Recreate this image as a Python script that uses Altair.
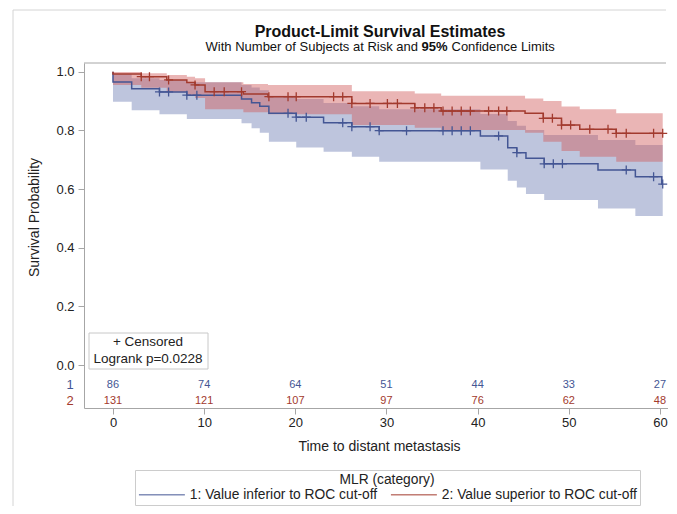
import altair as alt
import pandas as pd

# ---------------- data ----------------
LAB1 = "1: Value inferior to ROC cut-off"
LAB2 = "2: Value superior to ROC cut-off"

# Kaplan-Meier step curves (time, survival)
blue_t = [0, 0, 2.05, 5.1, 8.1, 14.1, 15.2, 16.1, 17.1, 20.1, 23.1, 26.2, 29.2,
          40.3, 43.3, 44.3, 45.3, 47.3, 53.2, 57.3, 60.2, 60.3]
blue_s = [1.0, 0.965, 0.942, 0.931, 0.920, 0.907, 0.894, 0.882, 0.858, 0.845, 0.826,
          0.8125, 0.799, 0.781, 0.741, 0.724, 0.705, 0.686, 0.665, 0.642, 0.617, 0.617]

red_t = [0, 0, 3.1, 5.9, 8.1, 9.0, 10.1, 14.3, 17.0, 26.2, 33.1, 36.0, 45.2, 47.2,
         49.2, 51.2, 55.2, 60.3]
red_s = [1.0, 0.992, 0.983, 0.972, 0.963, 0.955, 0.932, 0.924, 0.915, 0.892, 0.877,
         0.866, 0.858, 0.841, 0.818, 0.8035, 0.790, 0.790]

# 95% confidence bands (step)
blue_ci_t = [0, 2.05, 5.1, 8.1, 14.1, 15.2, 16.1, 17.1, 20.1, 23.1, 26.2, 29.2,
             40.3, 43.3, 44.3, 45.3, 47.3, 53.2, 57.3, 60.2, 60.3]
blue_lo = [0.898, 0.869, 0.855, 0.839, 0.824, 0.807, 0.792, 0.761, 0.742, 0.727, 0.710,
           0.693, 0.667, 0.628, 0.605, 0.583, 0.563, 0.534, 0.508, 0.508, 0.508]
blue_hi = [0.991, 0.978, 0.972, 0.964, 0.955, 0.946, 0.937, 0.918, 0.907, 0.893, 0.882,
           0.872, 0.856, 0.832, 0.816, 0.801, 0.784, 0.767, 0.750, 0.750, 0.750]

red_ci_t = [0, 3.1, 5.9, 8.1, 9.0, 10.1, 14.3, 17.0, 26.2, 33.1, 36.0, 45.2, 47.2,
            49.2, 51.2, 55.2, 60.3]
red_hi = [0.999, 0.995, 0.989, 0.983, 0.978, 0.964, 0.958, 0.955, 0.933, 0.926, 0.918,
          0.909, 0.900, 0.881, 0.872, 0.858, 0.858]
red_lo = [0.955, 0.945, 0.930, 0.920, 0.910, 0.872, 0.862, 0.855, 0.818, 0.809, 0.801,
          0.792, 0.761, 0.730, 0.710, 0.693, 0.693]

# censored observations (times)
blue_cens = [5.1, 6.1, 8.1, 9.2, 19.2, 20.1, 21.2, 25.2, 26.2, 28.2, 29.2, 32.2, 36.2,
             37.2, 38.2, 39.2, 42.3, 44.3, 47.3, 48.3, 49.3, 56.3, 59.3, 60.3]
red_cens = [3.1, 4.0, 6.1, 9.0, 11.1, 12.2, 14.1, 17.1, 19.2, 20.1, 24.2, 25.2, 26.2,
            28.2, 30.1, 31.2, 33.1, 34.2, 35.2, 36.2, 37.2, 38.2, 39.2, 41.2, 42.3,
            43.2, 47.2, 48.2, 49.2, 50.2, 52.3, 54.3, 55.2, 56.3, 59.3, 60.3]

# number at risk
risk_times = [0, 10, 20, 30, 40, 50, 60]
risk_blue = [86, 74, 64, 51, 44, 33, 27]
risk_red = [131, 121, 107, 97, 76, 62, 48]
risk_rows = ["1", "2"]
risk_row_y = [-0.068, -0.122]

x_ticks = [0, 10, 20, 30, 40, 50, 60]
y_ticks = [0.0, 0.2, 0.4, 0.6, 0.8, 1.0]

TITLE = "Product-Limit Survival Estimates"
SUB_A = "With Number of Subjects at Risk and"
SUB_B = "95%"
SUB_C = "Confidence Limits"

# ---------------- styling ----------------
BLUE_LINE, RED_LINE = "#445694", "#A23A2E"
BLUE_FILL, RED_FILL = "#6F7EB3", "#D05B5B"
FONT = "Liberation Sans"
FRAME = "#a6a6a6"
TXT = "#222"
W, H = 584, 345


def step_lookup(ts, vs, t):
    v = vs[0]
    for ti, vi in zip(ts, vs):
        if ti <= t + 1e-9:
            v = vi
    return v


curves = pd.concat([
    pd.DataFrame({"t": blue_t, "s": blue_s, "group": LAB1, "o": range(len(blue_t))}),
    pd.DataFrame({"t": red_t, "s": red_s, "group": LAB2, "o": range(len(red_t))}),
])
bci = pd.DataFrame({"t": blue_ci_t, "lo": blue_lo, "hi": blue_hi})
rci = pd.DataFrame({"t": red_ci_t, "lo": red_lo, "hi": red_hi})
bcen = pd.DataFrame({"t": blue_cens, "s": [step_lookup(blue_t, blue_s, t) for t in blue_cens]})
rcen = pd.DataFrame({"t": red_cens, "s": [step_lookup(red_t, red_s, t) for t in red_cens]})
risk_b = pd.DataFrame({"t": risk_times, "n": risk_blue, "y": risk_row_y[0]})
risk_r = pd.DataFrame({"t": risk_times, "n": risk_red, "y": risk_row_y[1]})
rowlab = pd.DataFrame({"lab": risk_rows, "y": risk_row_y, "c": [BLUE_LINE, RED_LINE]})

xscale = alt.Scale(domain=[-3.18, 60.88], nice=False, zero=False)
yscale = alt.Scale(domain=[-0.1466, 1.0297], nice=False, zero=False)

xaxis = alt.Axis(values=x_ticks, format="d", title="Time to distant metastasis",
                 labelFontSize=13, titleFontSize=14, titleFontWeight="normal",
                 tickSize=6, labelPadding=2, titleX=295, titleY=38,
                 titleBaseline="middle", titleAlign="center",
                 domainColor=FRAME, tickColor=FRAME, labelColor=TXT,
                 titleColor=TXT, labelFont=FONT, titleFont=FONT, grid=False)
yaxis = alt.Axis(values=y_ticks, format=".1f", title="Survival Probability",
                 labelFontSize=13, titleFontSize=14, titleFontWeight="normal",
                 tickSize=6, labelPadding=4, titleX=-50, titleY=154,
                 titleAngle=270, titleBaseline="middle", titleAlign="center",
                 domainColor=FRAME, tickColor=FRAME, labelColor=TXT,
                 titleColor=TXT, labelFont=FONT, titleFont=FONT, grid=False)


def X(field="t"):
    return alt.X(f"{field}:Q", scale=xscale, axis=xaxis)


def Y(field):
    return alt.Y(f"{field}:Q", scale=yscale, axis=yaxis)


one = alt.Data(values=[{"a": 1}])

outer_v = alt.Chart(one).mark_rule(color="#d4d4d4", strokeWidth=1).encode(
    x=alt.value(-71), y=alt.value(-53), y2=alt.value(452))
outer_h = alt.Chart(one).mark_rule(color="#d4d4d4", strokeWidth=1).encode(
    x=alt.value(-71), x2=alt.value(W - 2), y=alt.value(-53))
top_border = alt.Chart(one).mark_rule(color=FRAME, strokeWidth=1).encode(
    x=alt.value(0), x2=alt.value(W - 2), y=alt.value(0))

title_t = alt.Chart(one).mark_text(text=TITLE, fontSize=16, fontWeight="bold", font=FONT,
                                   color="#111", align="center", baseline="middle").encode(
    x=alt.value(296), y=alt.value(-31))
sub_a = alt.Chart(one).mark_text(text=SUB_A, fontSize=13, font=FONT, color="#111",
                                 align="right", baseline="middle").encode(
    x=alt.value(334), y=alt.value(-16))
sub_b = alt.Chart(one).mark_text(text=SUB_B, fontSize=13, font=FONT, fontWeight="bold",
                                 color="#111", align="left", baseline="middle").encode(
    x=alt.value(337.5), y=alt.value(-16))
sub_c = alt.Chart(one).mark_text(text=SUB_C, fontSize=13, font=FONT, color="#111",
                                 align="left", baseline="middle").encode(
    x=alt.value(367.5), y=alt.value(-16))

band_b = alt.Chart(bci).mark_area(interpolate="step-after", color=BLUE_FILL,
                                  opacity=0.45).encode(x=X(), y=Y("lo"), y2="hi:Q")
band_r = alt.Chart(rci).mark_area(interpolate="step-after", color=RED_FILL,
                                  opacity=0.45).encode(x=X(), y=Y("lo"), y2="hi:Q")

lines = alt.Chart(curves).mark_line(interpolate="step-after", strokeWidth=1.5).encode(
    x=X(), y=Y("s"), order="o:Q",
    color=alt.Color("group:N",
                    scale=alt.Scale(domain=[LAB1, LAB2], range=[BLUE_LINE, RED_LINE]),
                    legend=alt.Legend(orient="none", legendX=51, legendY=407,
                                      direction="horizontal", title="MLR (category)",
                                      titleAnchor="middle", titleFontSize=13.8,
                                      titleFontWeight="normal", titleFont=FONT,
                                      titleColor=TXT, titlePadding=1,
                                      labelFontSize=13.8, labelFont=FONT,
                                      labelColor=TXT, labelLimit=0,
                                      symbolType="M-4,0L4,0", symbolSize=132,
                                      symbolStrokeWidth=1, symbolOffset=17,
                                      labelOffset=21, columnPadding=10, padding=3,
                                      strokeColor="#cccccc", fillColor="white")))

cross = "M0,-1L0,1M-1,0L1,0"
cen_b = alt.Chart(bcen).mark_point(shape=cross, size=81, filled=False, strokeWidth=1.3,
                                   opacity=1, color=BLUE_LINE).encode(x=X(), y=Y("s"))
cen_r = alt.Chart(rcen).mark_point(shape=cross, size=81, filled=False, strokeWidth=1.3,
                                   opacity=1, color=RED_LINE).encode(x=X(), y=Y("s"))

rk_b = alt.Chart(risk_b).mark_text(fontSize=11, font=FONT, color=BLUE_LINE).encode(
    x=X(), y=Y("y"), text="n:Q")
rk_r = alt.Chart(risk_r).mark_text(fontSize=11, font=FONT, color=RED_LINE).encode(
    x=X(), y=Y("y"), text="n:Q")
rows = alt.Chart(rowlab).mark_text(fontSize=13, font=FONT).encode(
    x=alt.value(-14), y=Y("y"), text="lab:N", color=alt.Color("c:N", scale=None))

inset_box = alt.Chart(one).mark_rect(fill="white", stroke="#c8c8c8", strokeWidth=1).encode(
    x=alt.value(5), x2=alt.value(124), y=alt.value(270), y2=alt.value(306))
inset_t1 = alt.Chart(one).mark_text(text="+ Censored", fontSize=13.5, font=FONT,
                                    color=TXT).encode(x=alt.value(64), y=alt.value(279))
inset_t2 = alt.Chart(one).mark_text(text="Logrank p=0.0228", fontSize=13.5, font=FONT,
                                    color=TXT).encode(x=alt.value(64), y=alt.value(296))

chart = alt.layer(
    outer_v, outer_h, title_t, sub_a, sub_b, sub_c, band_b, band_r, lines, cen_b, cen_r,
    rk_b, rk_r, rows, inset_box, inset_t1, inset_t2, top_border
).properties(
    width=W, height=H,
    autosize=alt.AutoSizeParams(type="none"),
    padding={"left": 76, "top": 55, "right": 0, "bottom": 98},
).configure_view(stroke=None)

chart.save("out.html", embed_options={"renderer": "svg", "actions": False})
